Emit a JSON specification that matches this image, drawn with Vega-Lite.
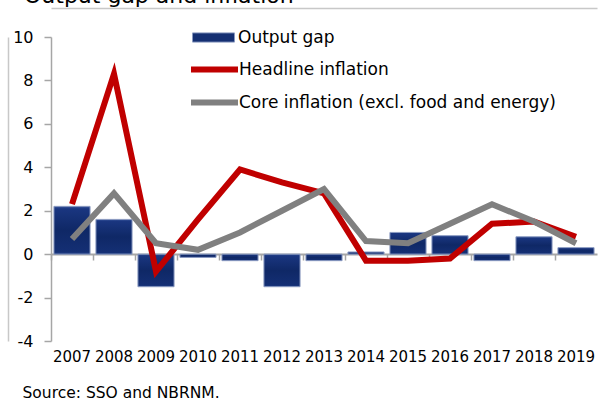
{
  "$schema": "https://vega.github.io/schema/vega-lite/v6.json",
  "width": 546,
  "height": 304,
  "autosize": {"type": "none"},
  "padding": {"left": 51, "top": 37, "right": 3, "bottom": 62},
  "background": "white",
  "config": {
    "view": {"stroke": null},
    "font": "DejaVu Sans",
    "axis": {"grid": false, "labelColor": "black", "titleColor": "black"}
  },
  "title": {
    "text": "Output gap and inflation",
    "anchor": "start",
    "frame": "group",
    "fontSize": 22,
    "fontWeight": "normal",
    "color": "black",
    "dx": -27,
    "offset": 0
  },
  "data": {
    "values": [
      {"year": "2007", "gap": 2.2, "headline": 2.3, "core": 0.7},
      {"year": "2008", "gap": 1.6, "headline": 8.3, "core": 2.8},
      {"year": "2009", "gap": -1.5, "headline": -0.8, "core": 0.5},
      {"year": "2010", "gap": -0.15, "headline": 1.6, "core": 0.2},
      {"year": "2011", "gap": -0.3, "headline": 3.9, "core": 1.0},
      {"year": "2012", "gap": -1.5, "headline": 3.3, "core": 2.0},
      {"year": "2013", "gap": -0.3, "headline": 2.8, "core": 3.0},
      {"year": "2014", "gap": 0.1, "headline": -0.3, "core": 0.6},
      {"year": "2015", "gap": 1.0, "headline": -0.3, "core": 0.5},
      {"year": "2016", "gap": 0.85, "headline": -0.2, "core": 1.4},
      {"year": "2017", "gap": -0.3, "headline": 1.4, "core": 2.3},
      {"year": "2018", "gap": 0.8, "headline": 1.5, "core": 1.5},
      {"year": "2019", "gap": 0.3, "headline": 0.8, "core": 0.5}
    ]
  },
  "layer": [
    {
      "mark": {"type": "bar", "width": {"band": 0.86}, "opacity": 0},
      "encoding": {
        "x": {
          "field": "year",
          "type": "nominal",
          "scale": {"type": "band", "paddingInner": 0, "paddingOuter": 0},
          "axis": null
        },
        "y": {"field": "gap", "type": "quantitative", "axis": null},
        "fill": {
          "datum": "Output gap",
          "type": "nominal",
          "scale": {"range": ["#142f72"]},
          "legend": {
            "orient": "none",
            "legendX": 141,
            "legendY": -8,
            "title": null,
            "symbolType": "M-1,-0.22H1V0.22H-1Z",
            "symbolSize": 1764,
            "symbolFillColor": "#142f72",
            "symbolStrokeColor": "#8a9ac0",
            "symbolStrokeWidth": 1,
            "symbolOpacity": 1,
            "clipHeight": 17,
            "labelFontSize": 17,
            "labelOffset": 3,
            "labelLimit": 400,
            "labelColor": "black"
          }
        }
      }
    },
    {
      "mark": {
        "type": "bar",
        "width": {"band": 0.86},
        "stroke": "#8a9ac0",
        "strokeWidth": 1,
        "color": {"gradient": "linear", "x1": 0, "y1": 0, "x2": 0, "y2": 1, "stops": [
          {"offset": 0, "color": "#3d5aa0"},
          {"offset": 0.05, "color": "#1a3680"},
          {"offset": 0.5, "color": "#0f2866"},
          {"offset": 0.95, "color": "#142f74"},
          {"offset": 1, "color": "#25428a"}
        ]}
      },
      "encoding": {
        "x": {
          "field": "year",
          "type": "nominal",
          "axis": {
            "orient": "bottom",
            "domain": false,
            "ticks": false,
            "tickSize": 0,
            "labelAngle": 0,
            "labelFontSize": 15,
            "labelPadding": 8,
            "title": "Source: SSO and NBRNM.",
            "titleFontSize": 15.5,
            "titleFontWeight": "normal",
            "titleAnchor": "start",
            "titleAlign": "left",
            "titleBaseline": "middle",
            "titleX": -29,
            "titleY": 51
          }
        },
        "y": {
          "field": "gap",
          "type": "quantitative",
          "scale": {"domain": [-4, 10], "nice": false, "zero": false},
          "axis": {
            "orient": "left",
            "values": [-4, -2, 0, 2, 4, 6, 8, 10],
            "labelExpr": "'' + datum.value",
            "labelFontSize": 16,
            "tickSize": 7,
            "tickColor": "#a6a6a6",
            "tickWidth": 1.5,
            "domainColor": "#a6a6a6",
            "domainWidth": 1.5,
            "labelPadding": 11,
            "title": null
          }
        }
      }
    },
    {
      "mark": {"type": "line", "strokeWidth": 6, "strokeJoin": "miter", "strokeCap": "butt"},
      "encoding": {
        "x": {
          "field": "year",
          "type": "nominal",
          "axis": {
            "orient": "bottom",
            "offset": -87,
            "labels": false,
            "domain": true,
            "domainColor": "#a6a6a6",
            "domainWidth": 2,
            "ticks": true,
            "tickColor": "#a6a6a6",
            "tickWidth": 1.5,
            "tickSize": 6,
            "bandPosition": 0,
            "title": null
          }
        },
        "y": {
          "field": "headline",
          "type": "quantitative",
          "axis": {
            "orient": "left",
            "offset": 43,
            "labels": false,
            "ticks": false,
            "domainColor": "#c8c8c8",
            "domainWidth": 1.5,
            "title": null
          }
        },
        "stroke": {
          "datum": "Headline inflation",
          "type": "nominal",
          "scale": {
            "domain": ["Headline inflation", "Core inflation (excl. food and energy)"],
            "range": ["#c00000", "#808080"]
          },
          "legend": {
            "orient": "none",
            "legendX": 137,
            "legendY": 24,
            "title": null,
            "symbolType": "stroke",
            "symbolSize": 2209,
            "symbolStrokeWidth": 6,
            "clipHeight": 17,
            "rowPadding": 15,
            "labelFontSize": 17,
            "labelOffset": -2,
            "labelLimit": 400,
            "labelColor": "black"
          }
        }
      }
    },
    {
      "mark": {"type": "line", "strokeWidth": 6, "strokeJoin": "miter", "strokeCap": "butt"},
      "encoding": {
        "x": {
          "field": "year",
          "type": "nominal",
          "axis": {
            "orient": "top",
            "offset": 29,
            "labels": false,
            "ticks": false,
            "domainColor": "#c8c8c8",
            "domainWidth": 1.5,
            "title": null
          }
        },
        "y": {"field": "core", "type": "quantitative", "axis": null},
        "stroke": {"datum": "Core inflation (excl. food and energy)", "type": "nominal"}
      }
    }
  ],
  "resolve": {"axis": {"x": "independent", "y": "independent"}}
}
